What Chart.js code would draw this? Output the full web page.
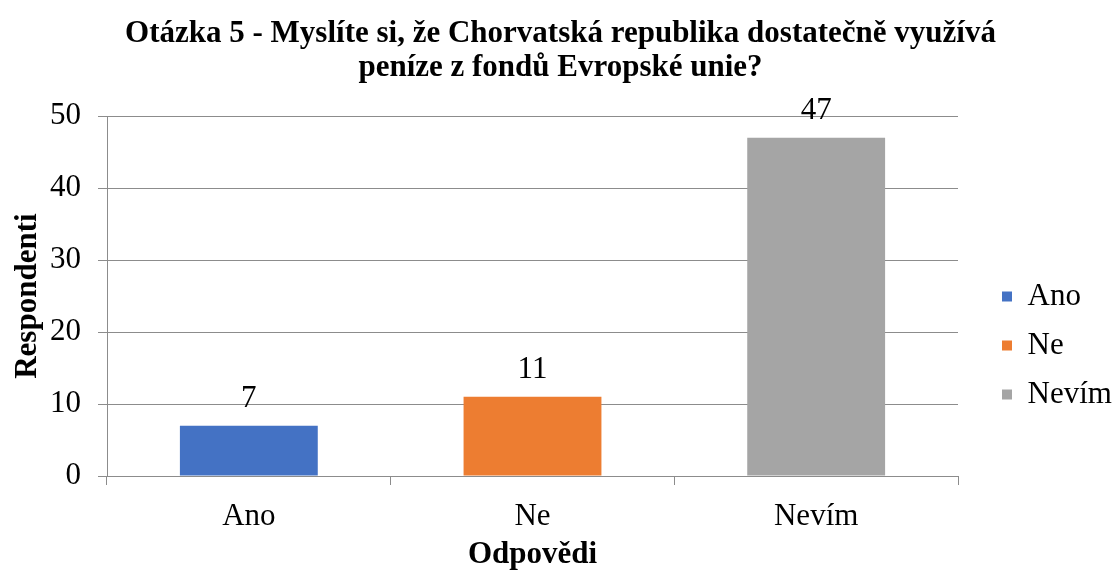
<!DOCTYPE html>
<html>
<head>
<meta charset="utf-8">
<script src="https://cdn.jsdelivr.net/npm/chart.js@4/dist/chart.umd.min.js"></script>
<style>
html,body{margin:0;padding:0;background:#fff;}
#wrap{width:1112px;height:570px;position:relative;}
</style>
</head>
<body>
<div id="wrap"><canvas id="c" width="1112" height="570"></canvas></div>
<script>
const categories = ["Ano", "Ne", "Nevím"];
const values = [7, 11, 47];
const colors = ["#4472C4", "#ED7D31", "#A5A5A5"];
const yTicks = [0, 10, 20, 30, 40, 50];
const titleLines = ["Otázka 5 - Myslíte si, že Chorvatská republika dostatečně využívá", "peníze z fondů Evropské unie?"];
const yTitle = "Respondenti";
const xTitle = "Odpovědi";

const FONT = "'Liberation Serif', 'Times New Roman', serif";
const FS = 31;
const GRID = "#8c8c8c";

// layout sizes
const Y_AXIS_W = 98;
const X_AXIS_H = 94;
const LEGEND_W = 154;
const LEGEND_LEFT = 984;
const LEGEND_TOP = 263;

const dataLabels = {
  id: 'dataLabels',
  afterDatasetsDraw(chart) {
    const ctx = chart.ctx;
    const meta = chart.getDatasetMeta(0);
    ctx.save();
    ctx.font = FS + "px " + FONT;
    ctx.fillStyle = "#000";
    ctx.textAlign = "center";
    ctx.textBaseline = "alphabetic";
    meta.data.forEach((el, i) => {
      ctx.fillText(String(values[i]), el.x, el.y - 19);
    });
    ctx.restore();
  }
};

const legendPlace = {
  id: 'legendPlace',
  beforeLayout(chart) {
    const lg = chart.legend;
    if (lg && !lg._patched) {
      const f = lg.fit.bind(lg);
      lg.fit = function () { f(); this.width = LEGEND_W; };
      lg._patched = true;
    }
  },
  afterLayout(chart) {
    const lg = chart.legend;
    if (!lg) return;
    const w = lg.width;
    lg.left = LEGEND_LEFT; lg.right = LEGEND_LEFT + w;
    lg.top = LEGEND_TOP; lg.bottom = chart.height; lg.height = lg.bottom - lg.top;
  }
};

new Chart(document.getElementById('c'), {
  type: 'bar',
  data: {
    labels: categories,
    datasets: [{
      data: values,
      backgroundColor: colors,
      borderWidth: 0,
      categoryPercentage: 1,
      barPercentage: 0.486
    }]
  },
  options: {
    responsive: false,
    animation: false,
    devicePixelRatio: 1,
    layout: { padding: { top: 2, left: 9, right: 0, bottom: 0 } },
    plugins: {
      title: {
        display: true,
        text: titleLines,
        color: "#000",
        font: { family: FONT, size: FS, weight: 'bold', lineHeight: 1.1 },
        padding: { top: 15, bottom: 31 }
      },
      legend: {
        display: true,
        position: 'right',
        align: 'start',
        onClick: null,
        labels: {
          color: "#000",
          font: { family: FONT, size: FS },
          boxWidth: 10,
          boxHeight: 10,
          padding: 18,
          generateLabels() {
            return categories.map((c, i) => ({
              text: c, fillStyle: colors[i], strokeStyle: colors[i], lineWidth: 0, hidden: false, index: i
            }));
          }
        }
      },
      tooltip: { enabled: false }
    },
    scales: {
      x: {
        afterFit(axis) { axis.height = X_AXIS_H; },
        grid: { drawOnChartArea: false, drawTicks: true, tickLength: 9, color: GRID, offset: true },
        border: { color: GRID, width: 1 },
        ticks: { color: "#000", font: { family: FONT, size: FS }, padding: 13 },
        title: { display: true, text: xTitle, color: "#000", font: { family: FONT, size: FS, weight: 'bold', lineHeight: 1.0 }, padding: { top: 2, bottom: 0 } }
      },
      y: {
        min: 0, max: 50,
        afterFit(axis) { axis.width = Y_AXIS_W; },
        afterBuildTicks(axis) { axis.ticks = yTicks.map(v => ({ value: v })); },
        grid: { color: GRID, tickLength: 9 },
        border: { color: GRID, width: 1 },
        ticks: { color: "#000", font: { family: FONT, size: FS }, padding: 17 },
        title: { display: true, text: yTitle, color: "#000", font: { family: FONT, size: FS, weight: 'bold' }, padding: { top: 0, bottom: 4 } }
      }
    }
  },
  plugins: [dataLabels, legendPlace]
});
</script>
</body>
</html>
